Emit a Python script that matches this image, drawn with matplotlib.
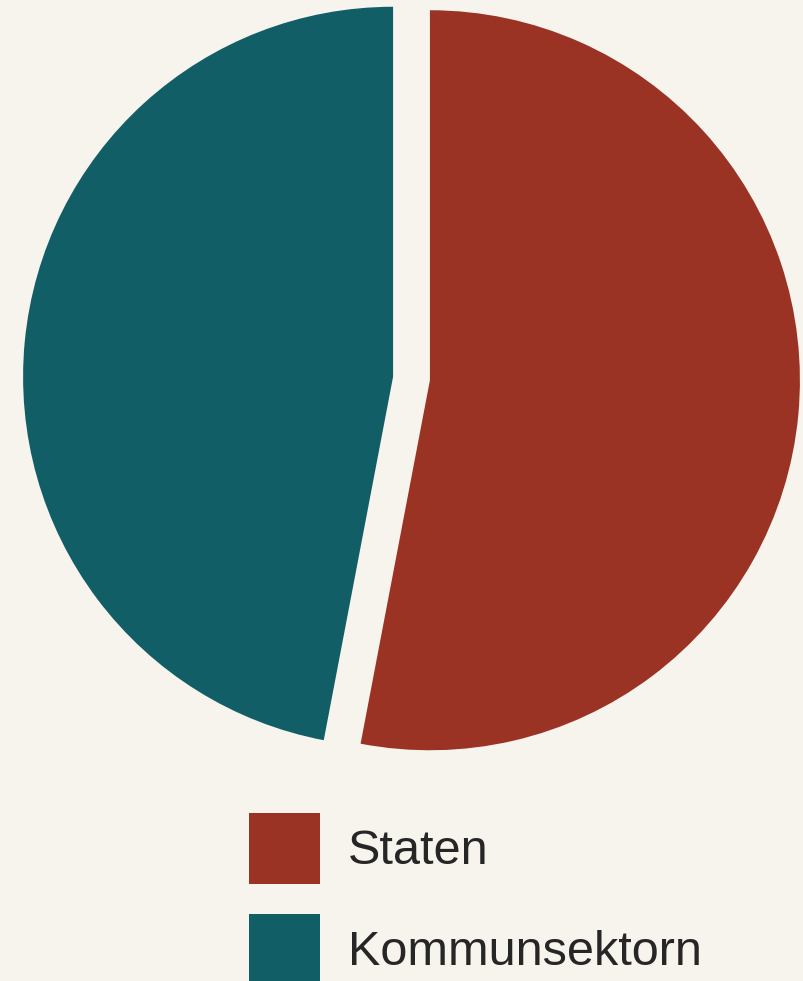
import matplotlib.pyplot as plt
from matplotlib.patches import Patch

# Data
labels = ["Staten", "Kommunsektorn"]
shares = [53, 47]

# Colours
bg = '#f7f3ed'
colors = ['#9a3324', '#125e66']
text_color = '#262626'

fig = plt.figure(figsize=(8.04, 9.81), dpi=100, facecolor=bg)
ax = fig.add_axes([0, 0, 1, 1])
ax.set_facecolor(bg)

ax.pie(shares, colors=colors, startangle=90, counterclock=False,
       explode=[0.05, 0.05], radius=1.0, center=(0, 0),
       wedgeprops=dict(linewidth=0))

# pie centre sits at (411, 378) px, radius 370 px
r_px = 370.0
cx, cy = 411.5, 378.5
ax.set_aspect('auto')
ax.set_xlim(-cx / r_px, (804 - cx) / r_px)
ax.set_ylim(-(981 - cy) / r_px, cy / r_px)
ax.axis('off')

fs = 35
handles = [Patch(facecolor=c, edgecolor='none', label=l) for c, l in zip(colors, labels)]
leg = fig.legend(handles=handles, loc='upper left',
                 bbox_to_anchor=(249 / 804, 1 - 813 / 981),
                 frameon=False, borderpad=0, borderaxespad=0,
                 handlelength=1.461, handleheight=1.871,
                 handletextpad=0.57, labelspacing=0.617,
                 prop={'family': 'Liberation Sans', 'size': fs})
for t in leg.get_texts():
    t.set_color(text_color)

plt.savefig('out.png', dpi=100, facecolor=bg)
plt.close()
